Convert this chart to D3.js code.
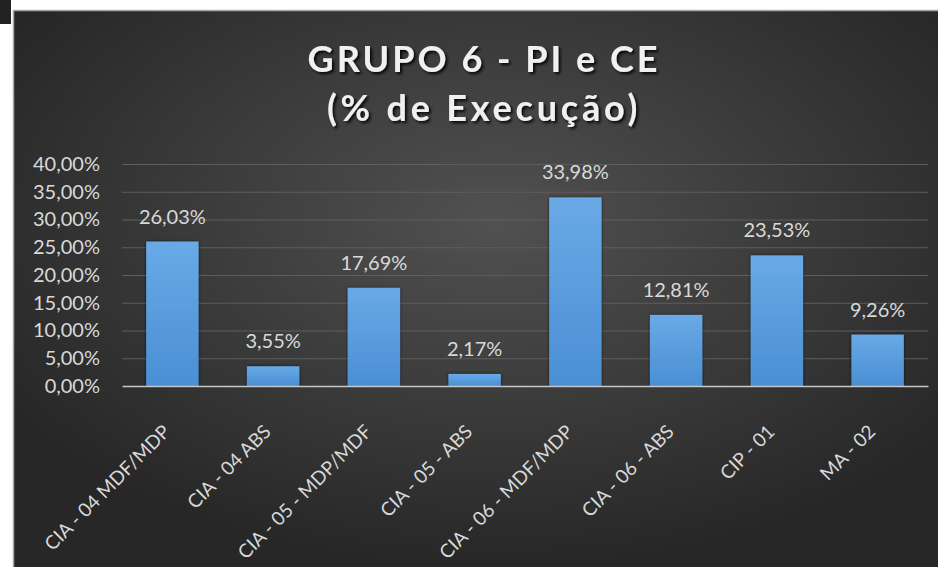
<!DOCTYPE html>
<html>
<head>
<meta charset="utf-8">
<script src="https://cdn.jsdelivr.net/npm/d3@7"></script>
<style>
  html, body { margin: 0; padding: 0; background: #ffffff; }
  svg { display: block; }
  text { font-family: Lato, "Open Sans", sans-serif; }
</style>
</head>
<body>
<script>
// chart data
const categories = ['CIA - 04 MDF/MDP', 'CIA - 04 ABS', 'CIA - 05 - MDP/MDF', 'CIA - 05 - ABS',
                    'CIA - 06 - MDF/MDP', 'CIA - 06 - ABS', 'CIP - 01', 'MA - 02'];
const execucao = [0.2603, 0.0355, 0.1769, 0.0217, 0.3398, 0.1281, 0.2353, 0.0926];
const yTicks = [0, 0.05, 0.10, 0.15, 0.20, 0.25, 0.30, 0.35, 0.40];
const titleLines = ['GRUPO 6 - PI e CE', '(% de Execução)'];

const W = 938, H = 567;
const panel = { x: 13, y: 10 };
const plot = { left: 122, right: 928, top: 164, bottom: 386 };

// pt-BR number format: 26,03%
const br = d3.formatLocale({ decimal: ',', thousands: '.', grouping: [3], currency: ['R$', ''] });
const pct = br.format('.2%');

const svg = d3.select('body')
              .append('svg')
              .attr('width', W)
              .attr('height', H);

const defs = svg.append('defs');

// background gradient
const bg = defs.append('radialGradient')
               .attr('id', 'bgGrad')
               .attr('cx', '52%').attr('cy', '38%').attr('r', '62%');
bg.append('stop').attr('offset', '0%').attr('stop-color', '#515151');
bg.append('stop').attr('offset', '100%').attr('stop-color', '#272727');

// bar gradient
const bar = defs.append('linearGradient')
                .attr('id', 'barGrad')
                .attr('x1', 0).attr('y1', 0).attr('x2', 0).attr('y2', 1);
bar.append('stop').attr('offset', '0%').attr('stop-color', '#69aae6');
bar.append('stop').attr('offset', '100%').attr('stop-color', '#4a8fd4');

// soft shadow used for bars
const sh = defs.append('filter').attr('id', 'shadow')
               .attr('x', '-20%').attr('y', '-20%').attr('width', '140%').attr('height', '140%');
sh.append('feGaussianBlur').attr('in', 'SourceAlpha').attr('stdDeviation', 1.6);
sh.append('feOffset').attr('dx', 0).attr('dy', 0).attr('result', 'b');
sh.append('feComponentTransfer').append('feFuncA').attr('type', 'linear').attr('slope', 0.7);
const shm = sh.append('feMerge');
shm.append('feMergeNode');
shm.append('feMergeNode').attr('in', 'SourceGraphic');

// title shadow
const tsh = defs.append('filter').attr('id', 'titleShadow')
                .attr('x', '-10%').attr('y', '-30%').attr('width', '120%').attr('height', '160%');
tsh.append('feGaussianBlur').attr('in', 'SourceAlpha').attr('stdDeviation', 1.5);
tsh.append('feOffset').attr('dx', 1.5).attr('dy', 2);
tsh.append('feComponentTransfer').append('feFuncA').attr('type', 'linear').attr('slope', 0.9);
const tm = tsh.append('feMerge');
tm.append('feMergeNode');
tm.append('feMergeNode').attr('in', 'SourceGraphic');

// little black square in the corner
svg.append('rect').attr('x', 0).attr('y', 0).attr('width', 11).attr('height', 24).attr('fill', '#222');

// chart panel
svg.append('rect')
   .attr('x', panel.x).attr('y', panel.y)
   .attr('width', W - panel.x).attr('height', H - panel.y)
   .attr('fill', 'url(#bgGrad)');
svg.append('path')
   .attr('d', `M${panel.x + 0.5},${H} V${panel.y + 0.5} H${W}`)
   .attr('fill', 'none')
   .attr('stroke', '#a8a8a8')
   .attr('stroke-width', 1.5);

// title
svg.append('g')
   .selectAll('text')
   .data(titleLines)
   .enter()
   .append('text')
   .attr('x', 484)
   .attr('y', (d, i) => 72 + i * 49)
   .attr('text-anchor', 'middle')
   .attr('fill', '#f0f0f0')
   .attr('font-size', 36)
   .attr('font-weight', 'bold')
   .attr('letter-spacing', (d, i) => i ? 3.8 : 3)
   .attr('filter', 'url(#titleShadow)')
   .text(d => d);

// scales
const xScale = d3.scaleBand()
                 .domain(categories)
                 .range([plot.left, plot.right])
                 .paddingInner(0.48)
                 .paddingOuter(0.24);
const yScale = d3.scaleLinear()
                 .domain([0, 0.40])
                 .range([plot.bottom, plot.top]);

// gridlines
svg.append('g')
   .attr('transform', `translate(${plot.left},0)`)
   .call(d3.axisLeft(yScale).tickValues(yTicks.slice(1)).tickSize(-(plot.right - plot.left)).tickFormat(''))
   .call(g => g.select('.domain').remove())
   .call(g => g.selectAll('line').attr('stroke', '#5e5e5e').attr('stroke-width', 1));

// y-axis labels
svg.append('g')
   .attr('transform', `translate(${plot.left},0)`)
   .call(d3.axisLeft(yScale).tickValues(yTicks).tickSize(0).tickPadding(22).tickFormat(pct))
   .call(g => g.select('.domain').remove())
   .call(g => g.selectAll('text')
               .attr('fill', '#d9d9d9')
               .attr('font-size', 20)
               .attr('font-family', 'Lato, sans-serif'));

// bars
svg.append('g')
   .selectAll('rect')
   .data(execucao)
   .enter()
   .append('rect')
   .attr('x', (d, i) => xScale(categories[i]))
   .attr('y', d => yScale(d))
   .attr('width', xScale.bandwidth())
   .attr('height', d => plot.bottom - yScale(d))
   .attr('fill', 'url(#barGrad)')
   .attr('filter', 'url(#shadow)');

// x-axis (baseline + rotated labels)
svg.append('g')
   .attr('transform', `translate(0,${plot.bottom})`)
   .call(d3.axisBottom(xScale).tickSize(0).tickSizeOuter(0))
   .call(g => g.select('.domain').attr('stroke', '#c8c8c8').attr('stroke-width', 1.5))
   .call(g => g.selectAll('text')
               .attr('fill', '#d9d9d9')
               .attr('font-size', 19)
               .attr('font-family', 'Lato, sans-serif')
               .attr('text-anchor', 'end')
               .attr('dy', 0)
               .attr('y', 0)
               .attr('transform', 'translate(-1,47) rotate(-45)'));

// value labels
svg.append('g')
   .selectAll('text')
   .data(execucao)
   .enter()
   .append('text')
   .attr('x', (d, i) => xScale(categories[i]) + xScale.bandwidth() / 2)
   .attr('y', d => yScale(d) - 18)
   .attr('text-anchor', 'middle')
   .attr('fill', '#d9d9d9')
   .attr('font-size', 20)
   .text(d => pct(d));
</script>
</body>
</html>
